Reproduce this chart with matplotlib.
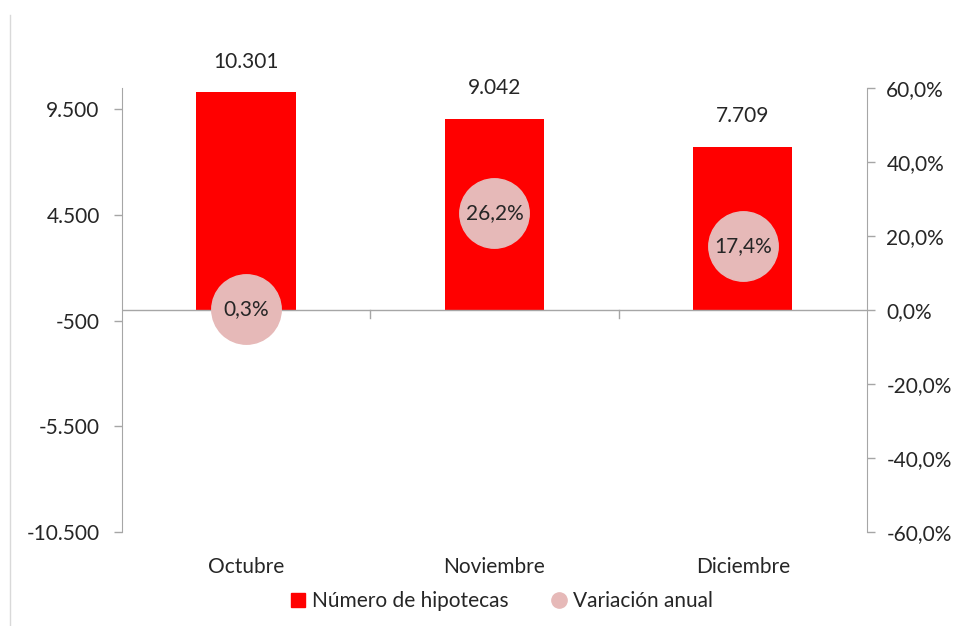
import matplotlib.pyplot as plt
from matplotlib.lines import Line2D
from matplotlib.ticker import FixedLocator, FuncFormatter

meses = ['Octubre', 'Noviembre', 'Diciembre']
hipotecas = [10301, 9042, 7709]
variacion = [0.3, 26.2, 17.4]

left_ticks = [-10500, -5500, -500, 4500, 9500]
right_ticks = [-60, -40, -20, 0, 20, 40, 60]

RED = '#FF0000'
PINK = '#E6B9B8'
GREY = '#A6A6A6'
TXT = '#262626'
FS = 15

plt.rcParams['font.family'] = ['Lato', 'DejaVu Sans']

fig = plt.figure(figsize=(9.55, 6.26), dpi=100)
ax = fig.add_axes([0.1277, 0.150, 0.780, 0.709])  # llx, lly, w, h

x = list(range(len(meses)))
ax.bar(x, hipotecas, width=0.4, color=RED, zorder=2)
ax.set_xlim(-0.5, 2.5)
ax.set_ylim(-10500, 10500)
ax.yaxis.set_major_locator(FixedLocator(left_ticks))
ax.yaxis.set_major_formatter(FuncFormatter(lambda v, p: f'{v:,.0f}'.replace(',', '.')))
ax.tick_params(axis='y', labelsize=FS, colors=GREY, labelcolor=TXT, length=6, width=1, pad=10)

for xi, v in zip(x, hipotecas):
    ax.annotate(f'{v:,}'.replace(',', '.'), (xi, v), xytext=(0, 15), textcoords='offset points',
                ha='center', va='bottom', fontsize=FS, color=TXT)

# category axis on zero line
ax.axhline(0, color=GREY, lw=1, zorder=3)
ax.set_xticks([])
for b in [0.5, 1.5]:
    ax.plot([b, b], [0, -380], color=GREY, lw=1, zorder=3, clip_on=False)
for xi, m in zip(x, meses):
    ax.text(xi, -12150, m, ha='center', va='center', fontsize=FS, color=TXT)

for s in ['top', 'bottom', 'right']:
    ax.spines[s].set_visible(False)
ax.spines['left'].set_color(GREY)

ax2 = ax.twinx()
ax2.set_ylim(-60, 60)
ax2.yaxis.set_major_locator(FixedLocator(right_ticks))
ax2.yaxis.set_major_formatter(FuncFormatter(lambda v, p: f'{v:.1f}%'.replace('.', ',')))
ax2.tick_params(axis='y', labelsize=FS, colors=GREY, labelcolor=TXT, length=6, width=1, pad=8)
for s in ['top', 'bottom', 'left']:
    ax2.spines[s].set_visible(False)
ax2.spines['right'].set_color(GREY)

ax2.plot(x, variacion, linestyle='none', marker='o', markersize=50, color=PINK, zorder=4)
for xi, v in zip(x, variacion):
    ax2.text(xi, v, f'{v:.1f}%'.replace('.', ','), ha='center', va='center', fontsize=FS, color=TXT, zorder=5)

handles = [Line2D([], [], linestyle='none', marker='s', markersize=10, color=RED),
           Line2D([], [], linestyle='none', marker='o', markersize=11, color=PINK)]
fig.legend(handles, ['Número de hipotecas', 'Variación anual'], loc='center',
           bbox_to_anchor=(0.525, 0.040), ncol=2, frameon=False, fontsize=FS,
           handlelength=0.8, handletextpad=0.3, columnspacing=2.0, labelcolor=TXT)

# chart area border on the left
fig.add_artist(Line2D([10 / 955, 10 / 955], [0, 1 - 15 / 626], color='#D9D9D9', lw=1))

fig.savefig('out.png', dpi=100)
